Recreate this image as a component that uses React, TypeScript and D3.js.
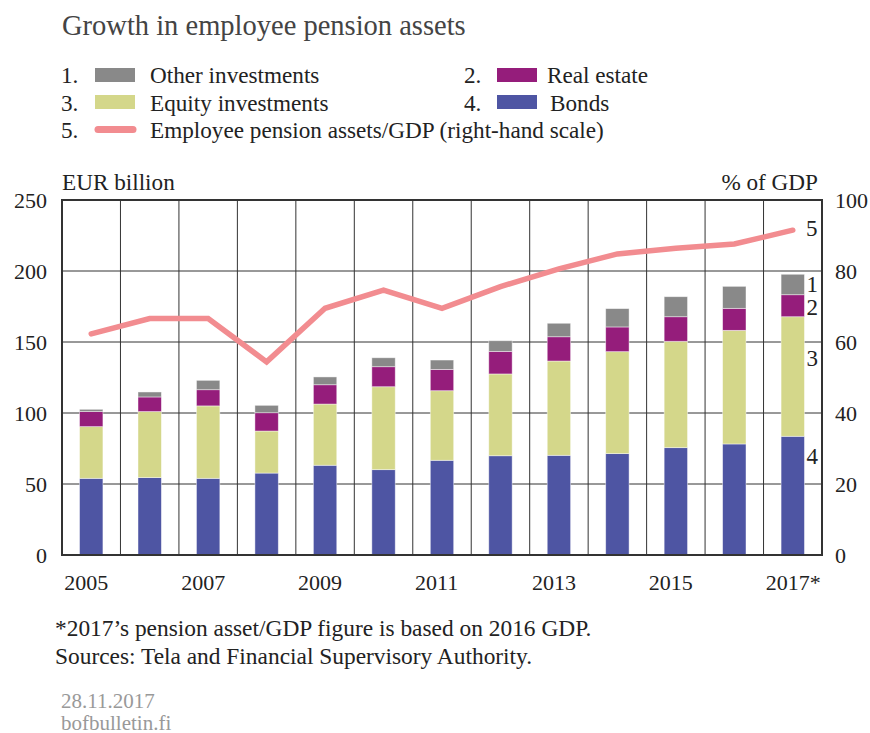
import React from "react";
import * as d3 from "d3";

const years = ["2005","2006","2007","2008","2009","2010","2011","2012","2013","2014","2015","2016","2017"];
const xLabels = ["2005","","2007","","2009","","2011","","2013","","2015","","2017*"];
const bonds = [54, 54.5, 54, 57.7, 63.2, 60.1, 66.7, 69.9, 70.2, 71.4, 75.6, 78.2, 83.6];
const equity = [36.4, 46.5, 51, 29.6, 43.1, 58.4, 49, 57.6, 66.4, 71.8, 74.9, 80, 84.2];
const realEstate = [10.6, 10.3, 11.4, 12.9, 13.6, 14.1, 15, 15.9, 17.1, 17.4, 17.3, 15.5, 15.5];
const other = [1.6, 3.5, 6.6, 5.2, 5.5, 6.3, 6.6, 7.5, 9.5, 12.9, 14.1, 15.5, 14.4];
const gdpShare = [62.3, 66.6, 66.6, 54.4, 69.5, 74.6, 69.5, 75.6, 80.6, 84.8, 86.4, 87.6, 91.5];
const leftTicks = [0, 50, 100, 150, 200, 250];
const rightTicks = [0, 20, 40, 60, 80, 100];
// positions (left-scale values) of the series number labels beside the last bar
const seriesLabelValues = [191, 174.5, 138.5, 69.5];

const colors = {
  other: "#898989",
  realEstate: "#951d7b",
  equity: "#d4d78a",
  bonds: "#4e55a3",
  line: "#f28c90",
};

const FONT = "'Liberation Serif', 'Times New Roman', serif";

export default function App() {
  const W = 870, H = 733;
  const left = 62, right = 822, top = 200, bottom = 555;

  const x = d3.scaleBand<string>().domain(years).range([left, right]).padding(0);
  const yL = d3.scaleLinear().domain([0, 250]).range([bottom, top]);
  const yR = d3.scaleLinear().domain([0, 100]).range([bottom, top]);
  const bw = x.bandwidth() * 0.4;
  const cx = (y: string) => (x(y) as number) + x.bandwidth() / 2;

  const series = [
    { key: "bonds", values: bonds, color: colors.bonds },
    { key: "equity", values: equity, color: colors.equity },
    { key: "realEstate", values: realEstate, color: colors.realEstate },
    { key: "other", values: other, color: colors.other },
  ];

  const rects: React.ReactNode[] = [];
  years.forEach((yr, i) => {
    let base = 0;
    series.forEach((s) => {
      const v = s.values[i];
      const y0 = yL(base);
      const y1 = yL(base + v);
      rects.push(
        <rect key={s.key + yr} x={cx(yr) - bw / 2} y={y1} width={bw} height={y0 - y1}
          fill={s.color} stroke="rgba(255,255,255,0.55)" strokeWidth={0.8} />
      );
      base += v;
    });
  });

  const line = d3.line<number>()
    .x((_, i) => cx(years[i]))
    .y((d) => yR(d));

  const lastX = cx(years[years.length - 1]) + bw / 2 + 2;
  const txt = "#222";

  return (
    <svg width={W} height={H} style={{ position: "absolute", left: 0, top: 0, background: "#fff" }} fontFamily={FONT}>
      <rect x={0} y={0} width={W} height={H} fill="#fff" />
      <text x={62} y={35} fontSize={28.5} fill="#444">Growth in employee pension assets</text>

      {/* Legend */}
      <g fontSize={23.2} fill={txt}>
        <text x={61} y={83}>1.</text>
        <rect x={95} y={68} width={40} height={14} fill={colors.other} />
        <text x={150} y={83}>Other investments</text>
        <text x={464} y={83}>2.</text>
        <rect x={497} y={68} width={40} height={14} fill={colors.realEstate} />
        <text x={547} y={83}>Real estate</text>

        <text x={61} y={110.5}>3.</text>
        <rect x={95} y={95} width={40} height={14} fill={colors.equity} />
        <text x={150} y={110.5}>Equity investments</text>
        <text x={464} y={110.5}>4.</text>
        <rect x={497} y={95} width={40} height={14} fill={colors.bonds} />
        <text x={550} y={110.5}>Bonds</text>

        <text x={61} y={138}>5.</text>
        <line x1={98} x2={133} y1={129.5} y2={129.5} stroke={colors.line} strokeWidth={7} strokeLinecap="round" />
        <text x={150} y={138}>Employee pension assets/GDP (right-hand scale)</text>
      </g>

      <text x={62} y={190} fontSize={23.2} fill={txt}>EUR billion</text>
      <text x={818} y={190} fontSize={23.2} fill={txt} textAnchor="end">% of GDP</text>

      {/* Grid */}
      <g stroke="#333" strokeWidth={1}>
        {leftTicks.filter((t) => t > 0 && t < 250).map((t) => (
          <line key={"h" + t} x1={left} x2={right} y1={yL(t)} y2={yL(t)} />
        ))}
        {years.slice(1).map((yr) => (
          <line key={"v" + yr} x1={x(yr) as number} x2={x(yr) as number} y1={top} y2={bottom} />
        ))}
      </g>

      {rects}

      <path d={line(gdpShare) || ""} fill="none" stroke={colors.line} strokeWidth={5.5}
        strokeLinejoin="miter" strokeLinecap="round" />

      <rect x={left} y={top} width={right - left} height={bottom - top} fill="none" stroke="#333" strokeWidth={2} />

      {/* Axis labels */}
      <g fontSize={22} fill={txt}>
        {leftTicks.map((t) => (
          <text key={"l" + t} x={47} y={yL(t) + 8} textAnchor="end">{t}</text>
        ))}
        {rightTicks.map((t) => (
          <text key={"r" + t} x={835} y={yR(t) + 8} textAnchor="start">{t}</text>
        ))}
        {years.map((yr, i) => xLabels[i] ? (
          <text key={"x" + yr} x={cx(yr) - 27} y={590}>{xLabels[i]}</text>
        ) : null)}
      </g>

      {/* series numbers */}
      <g fontSize={23} fill={txt}>
        <text x={806} y={yR(gdpShare[gdpShare.length - 1]) + 6}>5</text>
        {seriesLabelValues.map((v, i) => (
          <text key={"n" + i} x={lastX} y={yL(v) + 8}>{i + 1}</text>
        ))}
      </g>

      {/* Footnotes */}
      <g fontSize={23.4} fill={txt}>
        <text x={55} y={636}>*2017’s pension asset/GDP figure is based on 2016 GDP.</text>
        <text x={55} y={664}>Sources: Tela and Financial Supervisory Authority.</text>
      </g>
      <g fontSize={21} fill="#999">
        <text x={61} y={708}>28.11.2017</text>
        <text x={61} y={730}>bofbulletin.fi</text>
      </g>
    </svg>
  );
}
